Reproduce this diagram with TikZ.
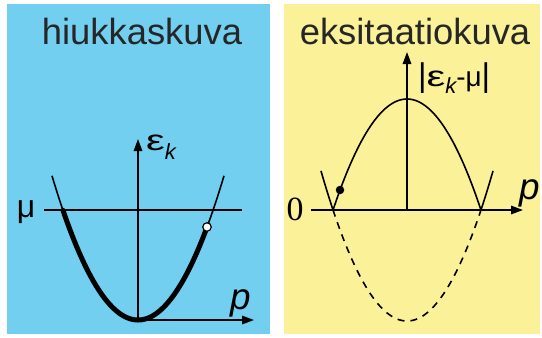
\documentclass[tikz,border=0pt]{standalone}
\usepackage{fontspec}
\setmainfont{Liberation Sans}
\newfontfamily\zerofont{Liberation Serif}
\usetikzlibrary{arrows.meta}
\definecolor{panelblue}{RGB}{114,207,240}
\definecolor{panelyellow}{RGB}{250,241,152}
\newcommand{\wideeps}{\scalebox{1.45}[1]{\fontsize{29}{32}\selectfont ε}}
\newcommand{\subk}[1]{\raisebox{-#1}{\fontsize{22}{26}\selectfont\itshape k}}
\tikzset{
  thinline/.style={line width=1.6bp},
  thickline/.style={line width=5bp},
  axisline/.style={line width=1.6bp,-{Triangle[length=12bp,width=8.5bp]}},
  bigtitle/.style={font=\fontsize{36.5}{40}\selectfont,text=black!85,inner sep=0pt},
  lbl/.style={font=\fontsize{32}{36}\selectfont,inner sep=0pt},
  plbl/.style={font=\fontsize{37}{40}\selectfont\itshape,inner sep=0pt},
}
\begin{document}
\begin{tikzpicture}[x=1bp,y=-1bp]
\useasboundingbox (0,0) rectangle (542,337);
\fill[white] (0,0) rectangle (542,337);
% panels
\fill[panelblue] (7,4) rectangle (270,334);
\fill[panelyellow] (284,4) rectangle (540,334);
% titles
\node[bigtitle,anchor=base] (t1) at (142,44) {hiukkaskuva};
\node[bigtitle,anchor=base] (t2) at (415,44) {eksitaatiokuva};
% ---- left panel ----
\coordinate (lo) at (138,320);
\coordinate (ltop) at (138,139);
\coordinate (lright) at (254,320);
\coordinate (mul) at (44,210);
\coordinate (mur) at (242,210);
\draw[axisline] (lo) -- (ltop);
\draw[axisline] (lo) -- (lright);
\draw[thinline] (mul) -- (mur);
\draw[thinline] plot[domain=52:224,samples=80] (\x,{320-0.0195*(\x-138)^2});
\draw[thickline,line cap=round] plot[domain=63:207,samples=80] (\x,{320-0.0195*(\x-138)^2});
\node[circle,draw=black,fill=white,line width=1.2bp,minimum size=8.5bp,inner sep=0pt] (hole) at (207,227) {};
\node[lbl,anchor=base west] (epsk) at (146,150) {\wideeps\subk{9bp}};
\node[plbl,anchor=base] (pl) at (241,309) {p};
\node[lbl,anchor=base] (mu) at (26,217) {μ};
% ---- right panel ----
\coordinate (ro) at (407,210);
\coordinate (rtop) at (407,52);
\coordinate (rleft) at (311,210);
\coordinate (rright) at (523,210);
\draw[thinline] (ro) -- (rleft);
\draw[axisline] (ro) -- (rright);
\draw[axisline] (ro) -- (rtop);
\draw[thinline] plot[domain=333:481,samples=80] (\x,{99+0.0203*(\x-407)^2});
\draw[thinline] plot[domain=321:333,samples=10] (\x,{321-0.0203*(\x-407)^2});
\draw[thinline] plot[domain=481:493,samples=10] (\x,{321-0.0203*(\x-407)^2});
\draw[thinline,dash pattern=on 7bp off 6bp] plot[domain=333:481,samples=80] (\x,{321-0.0203*(\x-407)^2});
\node[circle,fill=black,minimum size=8.5bp,inner sep=0pt] (dot) at (340,190) {};
\node[lbl,anchor=base,font=\fontsize{34}{38}\zerofont] (zero) at (295,220) {0};
\node[plbl,anchor=base] (pr) at (530,199) {p};
\node[lbl,anchor=base west] (abs) at (418,86) {{\fontsize{33}{36}\selectfont |}\wideeps\subk{7bp}{\fontsize{28}{32}\selectfont -μ}{\fontsize{33}{36}\selectfont |}};
\end{tikzpicture}
\end{document}
